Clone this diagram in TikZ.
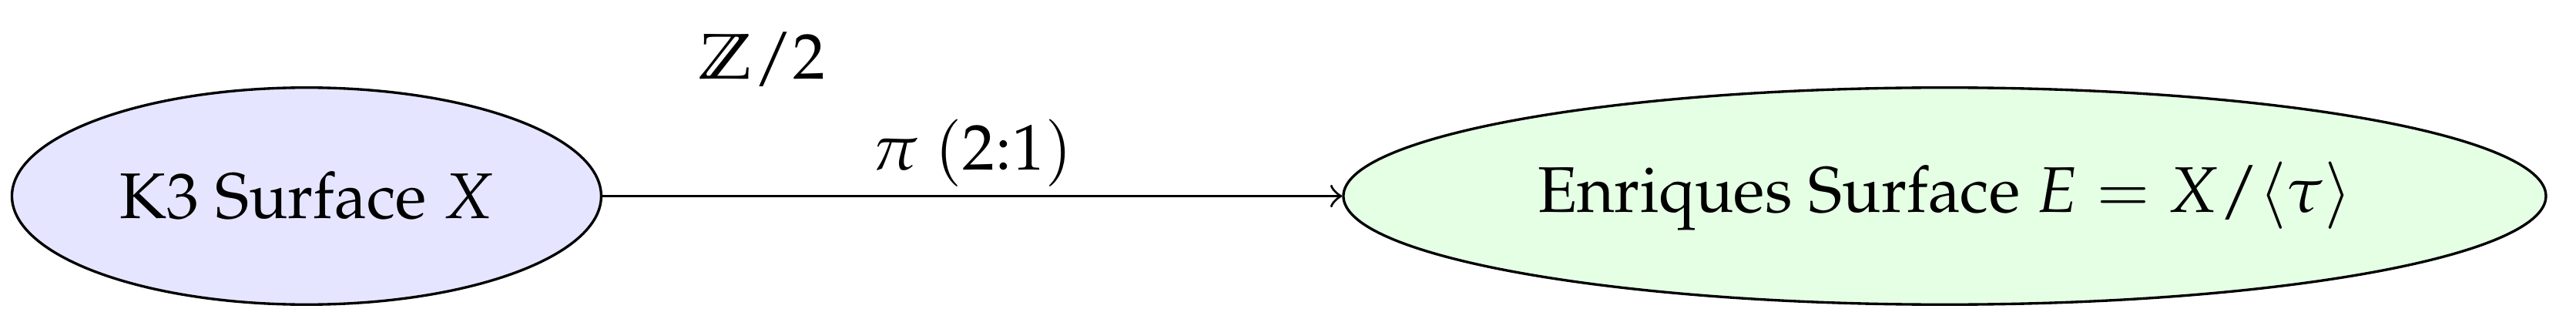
\documentclass[tikz,border=0pt]{standalone}
\usepackage[T1]{fontenc}
\usepackage{mathpazo}
\usepackage{amssymb}
\usetikzlibrary{shapes.geometric}
\tikzset{
  surf/.style={ellipse, draw=black, line width=0.4pt, minimum height=33.6pt, inner sep=3.33pt},
  lbl/.style={anchor=base, inner sep=0pt}
}
\begin{document}
\begin{tikzpicture}[x=1pt,y=1pt]
\useasboundingbox (0,0) rectangle (399.05,-50.84);
\node[surf, fill=blue!10, minimum width=90.3pt] (k3) at (47.49,-30.37) {K3 Surface $X$};
\node[surf, fill=green!10, minimum width=186.1pt, inner xsep=2.8pt] (enr) at (301.25,-30.37) {Enriques Surface $E = X/\langle\tau\rangle$};
\draw[->, line width=0.4pt] (k3) -- node[lbl, yshift=4.07pt] (pi) {$\pi\ (2{:}1)$} (enr);
\node[lbl] (z2) at (118.1,-12.2) {$\mathbb{Z}/2$};
\end{tikzpicture}
\end{document}
